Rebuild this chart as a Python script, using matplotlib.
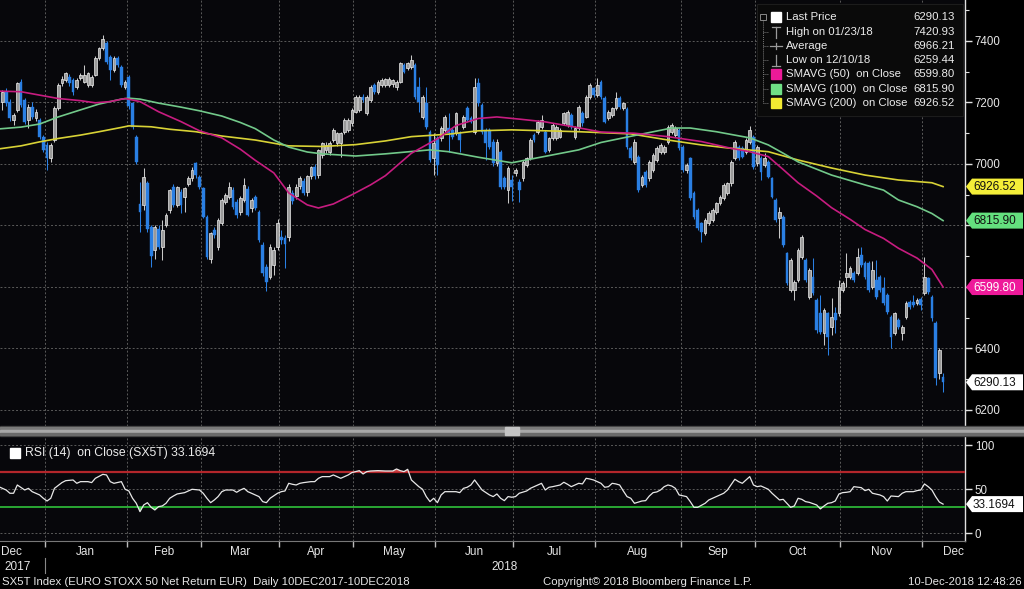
import numpy as np
import pandas as pd
import matplotlib
matplotlib.use("Agg")
import matplotlib.pyplot as plt
from matplotlib.patches import Rectangle, Polygon

# ---------------- data ----------------
opens = [7230,7203,7235,7203,7143,7176,7268,7208,7143,7186,
         7150,7143,7089,7062,7018,7078,7181,7262,7273,7284,
         7273,7252,7279,7268,7257,7257,7290,7344,7376,7392,
         7349,7306,7344,7317,7252,7284,7197,7089,6870,6867,
         6937,6796,6720,6788,6731,6802,6850,6926,6867,6910,
         6894,6935,6953,7002,6959,6921,6829,6690,6785,6731,
         6807,6878,6894,6915,6878,6845,6883,6920,6856,6894,
         6845,6737,6666,6634,6670,6731,6764,6758,6764,6905,
         6895,6930,6945,6910,6960,6990,6965,7029,7046,7040,
         7078,7067,7067,7105,7111,7132,7170,7176,7219,7165,
         7208,7257,7235,7257,7257,7257,7260,7250,7268,7322,
         7311,7317,7322,7251,7154,7197,7105,7018,7083,7083,
         7111,7116,7111,7100,7100,7121,7181,7149,7105,7262,
         7192,7111,7111,7073,7002,7040,6953,6915,6947,6970,
         6942,6953,6997,7018,7094,7105,7121,7105,7046,7083,
         7083,7089,7132,7127,7159,7089,7116,7165,7154,7219,
         7246,7224,7268,7214,7149,7159,7181,7214,7181,7178,
         7051,7008,7024,6932,6975,6953,6980,7013,7040,7040,
         7073,7105,7094,7111,7056,6980,7018,6905,6850,6807,
         6775,6807,6818,6845,6872,6888,6905,6937,7018,7056,
         7051,7040,7073,7089,7002,7018,6997,7007,6953,6883,
         6823,6829,6709,6590,6590,6623,6699,6688,6569,6634,
         6558,6514,6450,6514,6471,6514,6514,6590,6634,6634,
         6645,6645,6704,6677,6677,6601,6623,6634,6596,6575,
         6503,6450,6493,6450,6503,6552,6552,6547,6560,6580,
         6628,6569,6482,6319,6306]
highs = [7245,7240,7248,7210,7165,7268,7275,7215,7195,7200,
         7180,7150,7095,7070,7068,7190,7262,7285,7300,7292,
         7280,7280,7295,7322,7300,7290,7350,7380,7421,7400,
         7355,7350,7350,7322,7272,7290,7200,7095,6940,6986,
         6945,6800,6800,6800,6818,6840,6920,6935,6930,6920,
         6925,6960,6990,7008,6965,6925,6835,6780,6795,6825,
         6890,6905,6942,6925,6885,6895,6953,6930,6890,6900,
         6850,6745,6675,6740,6730,6820,6785,6770,6935,6915,
         6935,6960,6955,6965,6995,7000,7050,7072,7070,7075,
         7118,7105,7105,7148,7150,7182,7225,7225,7228,7225,
         7256,7262,7272,7280,7280,7282,7278,7272,7332,7330,
         7332,7354,7330,7284,7225,7251,7110,7100,7090,7122,
         7160,7165,7118,7170,7108,7160,7188,7155,7279,7279,
         7198,7118,7118,7080,7080,7046,6960,6992,6965,6986,
         6950,7012,7024,7084,7100,7144,7160,7110,7088,7132,
         7126,7116,7170,7175,7165,7122,7192,7172,7225,7262,
         7252,7279,7274,7220,7176,7186,7235,7220,7203,7185,
         7058,7080,7030,6965,6982,7014,7035,7057,7068,7062,
         7127,7133,7122,7117,7062,7003,7024,6911,6856,6813,
         6824,6846,6856,6878,6900,6938,6943,7014,7079,7062,
         7057,7084,7122,7095,7062,7025,7035,7013,6959,6889,
         6861,6835,6715,6694,6623,6726,6770,6694,6661,6693,
         6564,6575,6531,6520,6564,6536,6623,6618,6709,6667,
         6651,6726,6731,6683,6683,6683,6688,6640,6634,6581,
         6509,6520,6499,6477,6553,6558,6575,6564,6566,6699,
         6634,6575,6490,6400,6320]
lows = [7195,7176,7190,7140,7127,7170,7185,7130,7116,7145,
        7140,7080,7040,6980,7005,7070,7175,7255,7268,7255,
        7225,7245,7272,7262,7250,7250,7285,7338,7370,7325,
        7273,7300,7315,7250,7245,7180,7115,7000,6780,6850,
        6780,6666,6690,6725,6688,6795,6840,6860,6860,6840,
        6845,6930,6945,6955,6920,6825,6690,6677,6760,6720,
        6800,6870,6885,6855,6825,6835,6875,6830,6845,6850,
        6745,6635,6586,6625,6640,6720,6740,6661,6750,6870,
        6885,6920,6900,6895,6950,6950,6955,7020,7035,7030,
        7070,7060,7024,7098,7105,7125,7165,7170,7200,7160,
        7200,7228,7228,7250,7250,7250,7252,7242,7262,7295,
        7305,7310,7212,7170,7145,7115,7005,6963,6963,7075,
        7105,7040,7080,7095,7040,7115,7138,7132,7098,7190,
        7098,7013,7050,6995,6995,6920,6920,6872,6880,6962,
        6877,6945,6990,7012,7072,7098,7115,7035,7040,7078,
        7078,7083,7126,7120,7115,7080,7110,7125,7148,7212,
        7218,7218,7212,7132,7142,7152,7175,7180,7175,7050,
        7012,7000,6910,6925,6925,6946,6974,7006,7034,7034,
        7066,7098,7088,7045,6975,6972,6882,6822,6785,6747,
        6768,6800,6812,6838,6866,6882,6898,6930,7012,7012,
        7018,7034,7066,6985,6995,6948,6990,6953,6888,6812,
        6758,6731,6605,6583,6558,6616,6692,6616,6562,6573,
        6452,6448,6412,6379,6444,6450,6507,6583,6601,6627,
        6616,6638,6665,6627,6583,6594,6562,6583,6540,6513,
        6401,6443,6464,6428,6496,6529,6534,6540,6525,6573,
        6578,6491,6280,6300,6259.44]
closes = [7200,7235,7197,7149,7158,7262,7192,7138,7186,7154,
          7170,7089,7046,7018,7062,7181,7257,7278,7295,7262,
          7235,7273,7290,7290,7295,7284,7344,7376,7405,7333,
          7306,7344,7322,7257,7268,7187,7121,7008,6845,6959,
          6790,6700,6796,6731,6785,6834,6915,6867,6926,6867,
          6921,6953,6980,6964,6926,6829,6699,6775,6769,6818,
          6883,6899,6926,6861,6834,6888,6932,6834,6883,6856,
          6753,6644,6617,6731,6720,6807,6753,6740,6926,6880,
          6925,6955,6905,6960,6990,6960,7045,7067,7062,7067,
          7111,7100,7100,7143,7143,7176,7219,7219,7208,7219,
          7251,7235,7268,7273,7275,7275,7273,7268,7327,7300,
          7327,7338,7219,7203,7219,7121,7013,7067,6997,7116,
          7154,7100,7089,7165,7078,7154,7143,7138,7251,7197,
          7105,7067,7056,7002,7073,6926,6926,6986,6926,6980,
          6915,7008,7018,7078,7078,7138,7143,7040,7083,7127,
          7121,7111,7165,7170,7121,7116,7186,7132,7219,7257,
          7224,7257,7219,7138,7170,7181,7214,7186,7197,7056,
          7018,7073,6915,6959,6932,7008,7029,7051,7062,7056,
          7121,7127,7116,7051,6980,6997,6888,6829,6791,6780,
          6818,6840,6850,6872,6894,6932,6937,7008,7073,7018,
          7024,7078,7111,6991,7056,6975,7018,6959,6894,6818,
          6845,6737,6612,6688,6617,6720,6764,6623,6655,6580,
          6459,6455,6525,6439,6503,6493,6601,6612,6645,6661,
          6623,6699,6672,6634,6590,6655,6569,6590,6547,6520,
          6439,6514,6471,6471,6547,6536,6541,6558,6541,6634,
          6585,6498,6305,6395,6290.13]

sma50_points = [(0,7237),(6,7235),(11,7224),(16,7213),(22,7206),(26,7199),(30,7203),(34,7213),
                (38,7203),(43,7170),(49,7138),(54,7108),(60,7085),(65,7048),(69,7012),(74,6971),
                (78,6906),(83,6867),(86,6857),(90,6870),(95,6900),(100,6932),(104,6962),(111,7035),
                (118,7082),(123,7125),(129,7148),(134,7153),(140,7146),(147,7137),(155,7120),
                (162,7104),(171,7100),(180,7089),(189,7073),(197,7051),(202,7040),(207,7024),
                (211,6982),(215,6939),(220,6896),(224,6858),(229,6820),(233,6787),(238,6758),
                (242,6726),(247,6694),(251,6657),(254,6599.80)]
sma100_points = [(0,7114),(6,7120),(11,7130),(16,7153),(22,7176),(27,7195),(33,7211),(35,7214),
                 (38,7211),(43,7198),(49,7185),(54,7173),(60,7156),(65,7135),(69,7115),(74,7078),
                 (78,7055),(83,7039),(87,7033),(96,7026),(104,7033),(116,7046),(121,7040),
                 (129,7022),(138,7004),(147,7025),(156,7046),(162,7070),(172,7095),(181,7117),
                 (186,7117),(193,7105),(202,7085),(207,7062),(211,7035),(215,7007),(224,6964),
                 (233,6932),(238,6915),(242,6883),(247,6861),(251,6839),(254,6815.90)]
sma200_points = [(0,7049),(6,7059),(11,7072),(16,7083),(22,7094),(27,7105),(33,7119),(35,7124),
                 (41,7121),(46,7113),(53,7105),(60,7091),(69,7078),(78,7059),(87,7057),(96,7063),
                 (104,7075),(111,7089),(121,7097),(129,7108),(138,7111),(147,7108),(156,7105),
                 (170,7098),(180,7078),(189,7062),(197,7051),(207,7040),(215,7013),(224,6987),
                 (233,6964),(242,6948),(251,6939),(254,6926.52)]

rsi_points = [(0,53.0),(2,49.2),(3,45.5),(4,45.5),(5,54.9),(7,49.2),(8,51.1),(9,47.3),(11,43.6),
              (12,39.8),(13,36.7),(14,39.8),(15,51.1),(17,57.6),(18,59.8),(20,60.6),(21,56.8),
              (22,58.7),(24,58.7),(25,57.6),(26,62.5),(28,67.0),(29,66.3),(30,58.7),(31,56.8),
              (33,58.7),(34,50.0),(35,48.1),(36,39.8),(37,34.1),(38,24.6),(39,32.2),(40,34.8),
              (41,29.5),(42,26.5),(43,30.3),(44,31.1),(45,34.1),(46,39.8),(47,42.4),(48,44.7),
              (50,46.2),(51,48.1),(52,50.0),(54,49.2),(55,45.5),(56,39.8),(57,34.8),(58,37.9),
              (59,41.7),(60,47.3),(61,49.2),(63,49.2),(64,46.6),(65,49.2),(66,51.1),(67,47.3),
              (68,45.5),(70,41.7),(71,36.0),(72,34.8),(73,39.8),(75,45.5),(76,47.3),(77,48.1),
              (78,56.8),(79,55.7),(80,54.9),(81,56.8),(82,57.6),(84,58.7),(85,58.7),(86,62.5),
              (87,64.4),(89,64.4),(90,66.3),(91,64.4),(92,62.5),(93,64.4),(94,66.3),(95,69.0),
              (97,71.2),(98,67.4),(99,70.1),(100,70.8),(102,71.2),(104,70.8),(106,70.8),
              (107,73.1),(108,71.2),(109,70.1),(110,72.7),(111,60.6),(113,53.0),(114,50.0),
              (115,41.7),(116,36.0),(117,39.8),(118,34.8),(119,43.6),(120,47.3),(121,47.3),
              (123,47.3),(124,46.2),(125,51.1),(126,52.3),(127,54.9),(128,60.6),(129,54.9),
              (130,49.2),(132,43.6),(133,41.7),(134,44.7),(135,39.8),(136,37.1),(137,41.7),
              (138,41.0),(139,41.7),(140,45.5),(142,48.1),(143,51.1),(144,53.0),(146,56.8),
              (147,49.2),(148,52.3),(149,53.0),(151,54.9),(152,58.0),(153,55.7),(154,53.0),
              (156,56.8),(157,56.1),(158,62.5),(159,61.7),(160,60.6),(162,56.8),(163,52.3),
              (164,53.0),(165,56.8),(166,56.1),(167,54.9),(168,48.1),(169,41.7),(170,39.8),
              (171,34.1),(173,36.7),(174,37.1),(175,42.4),(176,46.2),(177,47.0),(178,49.2),
              (179,53.0),(180,54.9),(181,53.8),(182,51.1),(183,43.6),(185,41.7),(186,36.0),
              (187,29.5),(188,29.5),(190,34.1),(191,37.9),(192,39.8),(194,43.6),(195,45.5),
              (196,49.2),(198,61.4),(199,58.7),(200,56.8),(201,60.6),(202,64.4),(203,54.9),
              (204,53.0),(205,53.8),(207,50.0),(208,45.5),(209,41.7),(210,37.9),(211,38.6),
              (212,34.1),(213,29.5),(214,31.1),(215,39.8),(216,38.6),(217,36.0),(218,35.2),
              (220,32.2),(221,27.7),(222,31.1),(223,34.1),(224,34.8),(225,36.7),(226,44.7),
              (227,46.2),(228,46.6),(229,47.3),(230,53.0),(232,51.9),(233,48.5),(234,50.0),
              (235,45.5),(237,43.6),(238,41.7),(239,36.7),(240,42.4),(242,41.7),(243,45.5),
              (244,47.3),(246,47.3),(247,48.5),(248,49.2),(249,56.1),(250,53.0),(251,49.2),
              (252,41.7),(253,35.5),(254,33.1694)]

price_ticks = [6200, 6400, 6600, 6800, 7000, 7200, 7400]
hidden_price_labels = [6600, 6800]   # covered by the value tags in the reference
rsi_ticks = [0, 50, 100]
month_labels = ["Dec", "Jan", "Feb", "Mar", "Apr", "May", "Jun", "Jul", "Aug", "Sep", "Oct", "Nov", "Dec"]
year_labels = ["2017", "2018"]
legend_labels = ["Last Price", "High on 01/23/18", "Average", "Low on 12/10/18",
                 "SMAVG (50)  on Close", "SMAVG (100)  on Close", "SMAVG (200)  on Close"]
legend_values = ["6290.13", "7420.93", "6966.21", "6259.44", "6599.80", "6815.90", "6926.52"]
holidays = ["2017-12-25", "2017-12-26", "2018-01-01", "2018-03-30", "2018-04-02", "2018-05-01"]

# ---------------- layout helpers ----------------
W, H = 1024, 589
plt.rcParams['font.family'] = ["Liberation Sans", 'DejaVu Sans']

dates = pd.bdate_range("2017-12-11", "2018-12-10")
dates = dates[~dates.isin(pd.to_datetime(holidays))]
n = len(dates)
idx = np.arange(n)
month_first = [i for i in range(1, n) if dates[i].month != dates[i - 1].month]
month_ticks = [m - 0.6 for m in month_first]

def px2p(y):
    return 7400 - (y - 41) / 0.3075
def px2i(x):
    return (x + 1.3) / 3.718
def px2r(y):
    return (533.3 - y) / 0.88

fig = plt.figure(figsize=(W / 100, H / 100), dpi=100, facecolor="black")
ax = fig.add_axes([0, 1 - 426 / H, 965 / W, 426 / H])
rax = fig.add_axes([0, 1 - 541 / H, 965 / W, (541 - 436) / H])
for a in (ax, rax):
    a.set_facecolor("#07070b")
    for s in ("left", "top", "bottom"):
        a.spines[s].set_visible(False)
    a.spines["right"].set_color("#e0e0e0")
    a.spines["right"].set_linewidth(1.0)
    a.set_xlim(px2i(0), px2i(965))
    a.set_xticks(month_ticks)
    a.grid(True, color="#5a5a5a", linestyle=(0, (2, 2)), linewidth=0.7)
    a.set_axisbelow(True)

# ---------------- price panel ----------------
ax.set_ylim(px2p(426), px2p(0))
ax.yaxis.tick_right()
ax.set_yticks(price_ticks)
ax.set_yticklabels(["" if t in hidden_price_labels else str(t) for t in price_ticks])
ax.set_yticks(np.arange(6200, 7600, 100), minor=True)
ax.tick_params(axis="y", which="major", colors="#e0e0e0", labelcolor="#e6e6e6",
               labelsize=8.3, length=5, width=1.0, pad=2)
ax.tick_params(axis="y", which="minor", colors="#e0e0e0", length=3, width=0.8)
ax.tick_params(axis="x", length=0, labelbottom=False)

o = np.array(opens, float); c = np.array(closes, float)
h = np.array(highs, float); l = np.array(lows, float)
up = c >= o
blue = "#2a7fe3"
ax.vlines(idx[up], l[up], h[up], color="#c8c8c8", lw=0.75, zorder=3)
ax.vlines(idx[~up], l[~up], h[~up], color=blue, lw=0.75, zorder=3)
bh = np.maximum(np.abs(c - o), 3.0)
bb = np.minimum(o, c)
ax.bar(idx[up], bh[up], bottom=bb[up], width=0.74, color="#9a9a9a",
       edgecolor="#ececec", linewidth=0.5, zorder=4)
ax.bar(idx[~up], bh[~up], bottom=bb[~up], width=0.74, color=blue,
       edgecolor=blue, linewidth=0.3, zorder=4)

for pts, col in ((sma200_points, "#d8d236"), (sma100_points, "#72c98a"), (sma50_points, "#c71c80")):
    xs, ys = zip(*pts)
    ax.plot(xs, ys, color=col, lw=1.2, zorder=5)

# ---------------- RSI panel ----------------
rax.set_ylim(px2r(541), px2r(436))
rax.yaxis.tick_right()
rax.set_yticks(rsi_ticks)
rax.tick_params(axis="y", colors="#e0e0e0", labelcolor="#e6e6e6", labelsize=8.3,
                length=5, width=1.0, pad=2)
rax.tick_params(axis="x", colors="#bbbbbb", length=4, width=1.0, labelbottom=False)
rax.spines["bottom"].set_visible(True)
rax.spines["bottom"].set_color("#777777")
rax.axhline(70, color="#b3262b", lw=1.6, zorder=3)
rax.axhline(30, color="#2fc23a", lw=1.2, zorder=3)
ri, rv = (np.array(v, float) for v in zip(*rsi_points))
rax.fill_between(ri, rv, 70, where=rv > 70, interpolate=True, color="#d04848", lw=0, zorder=4)
rax.fill_between(ri, rv, 30, where=rv < 30, interpolate=True, color="#3ad04a", lw=0, zorder=4)
rax.plot(ri, rv, color="#e8e8e8", lw=0.9, zorder=5)

# ---------------- overlay (pixel coordinates) ----------------
ov = fig.add_axes([0, 0, 1, 1])
ov.set_xlim(0, W); ov.set_ylim(H, 0); ov.axis("off")

# separator bar between panels
ov.add_patch(Rectangle((0, 426), W, 10, color="#3a3a3a", zorder=1))
ov.add_patch(Rectangle((0, 427), W, 2, color="#7a7a7a", zorder=1))
ov.add_patch(Rectangle((0, 430), W, 3, color="#a8a8a8", zorder=1))
ov.add_patch(Rectangle((0, 433), W, 2, color="#6a6a6a", zorder=1))
ov.add_patch(Rectangle((505, 427), 14, 8, color="#c4c4c4", zorder=2))

# legend box
ov.add_patch(Rectangle((757, 4), 206, 112, facecolor="#0a0a0a", edgecolor="#1c1c1c", lw=0.8, zorder=5))
rows_y = [17, 32, 46, 60, 74, 89, 103]
ov.plot([763, 763], [21, rows_y[-1]], color="#777777", lw=0.7, linestyle=(0, (1, 1)), zorder=6)
ov.add_patch(Rectangle((760, 14), 6, 6, facecolor="none", edgecolor="#888888", lw=0.7, zorder=6))
for y in rows_y[1:]:
    ov.plot([763, 768], [y, y], color="#777777", lw=0.7, linestyle=(0, (1, 1)), zorder=6)
sym_cols = ["#ffffff", None, None, None, "#ec1a98", "#6fe085", "#f2ea32"]
for k, (lab, val) in enumerate(zip(legend_labels, legend_values)):
    y = rows_y[k]
    if sym_cols[k] is not None:
        ov.add_patch(Rectangle((771, y - 5.5), 10, 10, color=sym_cols[k], zorder=6))
    ov.text(786, y, lab, color="#ececec", fontsize=8.2, va="center", ha="left", zorder=7)
    ov.text(955, y, val, color="#ececec", fontsize=8.2, va="center", ha="right", zorder=7)
g = "#9a9a9a"
ov.plot([776, 776], [27, 38], color=g, lw=0.9, zorder=6)
ov.plot([772, 780], [27, 27], color=g, lw=0.9, zorder=6)
ov.plot([770, 782], [46, 46], color=g, lw=0.9, zorder=6)
ov.plot([776, 776], [43, 49], color=g, lw=0.9, zorder=6)
ov.plot([776, 776], [55, 66], color=g, lw=0.9, zorder=6)
ov.plot([772, 780], [66, 66], color=g, lw=0.9, zorder=6)

# right value tags
def tag(yc, text, face, tcol):
    poly = Polygon([[966, yc], [972, yc - 8], [1023, yc - 8], [1023, yc + 8], [972, yc + 8]],
                   closed=True, facecolor=face, edgecolor="none", zorder=8)
    ov.add_patch(poly)
    ov.text(973, yc + 0.5, text, color=tcol, fontsize=8.5, va="center", ha="left", zorder=9)

def p2px(p):
    return 41 + (7400 - p) * 0.3075
tag(p2px(6926.52), "6926.52", "#f4ee38", "#111111")
tag(p2px(6815.90), "6815.90", "#64e07e", "#111111")
tag(p2px(6599.80), "6599.80", "#ee1a9a", "#ffffff")
tag(p2px(6290.13), "6290.13", "#ffffff", "#111111")
tag(533.3 - 33.1694 * 0.88, "33.1694", "#ffffff", "#111111")

# RSI legend
ov.add_patch(Rectangle((10, 448), 10, 10, color="#ffffff", zorder=6))
ov.text(25, 453, "RSI (14)  on Close (SX5T) 33.1694", color="#ececec", fontsize=8.8,
        va="center", ha="left", zorder=7)

# month labels
def i2px(i):
    return -1.3 + 3.718 * i
tick_px = [i2px(t) for t in month_ticks]
label_px = [11] + [(tick_px[k] + tick_px[k + 1]) / 2 for k in range(len(tick_px) - 1)] + [953]
for lab, x in zip(month_labels, label_px):
    ov.text(x, 552, lab, color="#e6e6e6", fontsize=8.5, ha="center", va="center")
ov.text(18, 567, year_labels[0], color="#e6e6e6", fontsize=8.5, ha="center", va="center")
ov.text(505, 567, year_labels[1], color="#e6e6e6", fontsize=8.5, ha="center", va="center")
ov.plot([45, 45], [558, 573], color="#888888", lw=0.8)

# footer
ov.text(2, 582, "SX5T Index (EURO STOXX 50 Net Return EUR)  Daily 10DEC2017-10DEC2018",
        color="#e6e6e6", fontsize=8.2, ha="left", va="center")
ov.text(543, 582, "Copyright\u00a9 2018 Bloomberg Finance L.P.", color="#e6e6e6",
        fontsize=8.2, ha="left", va="center")
ov.text(1022, 582, "10-Dec-2018 12:48:26", color="#e6e6e6", fontsize=8.2, ha="right", va="center")

fig.savefig("out.png", dpi=100, facecolor="black")
